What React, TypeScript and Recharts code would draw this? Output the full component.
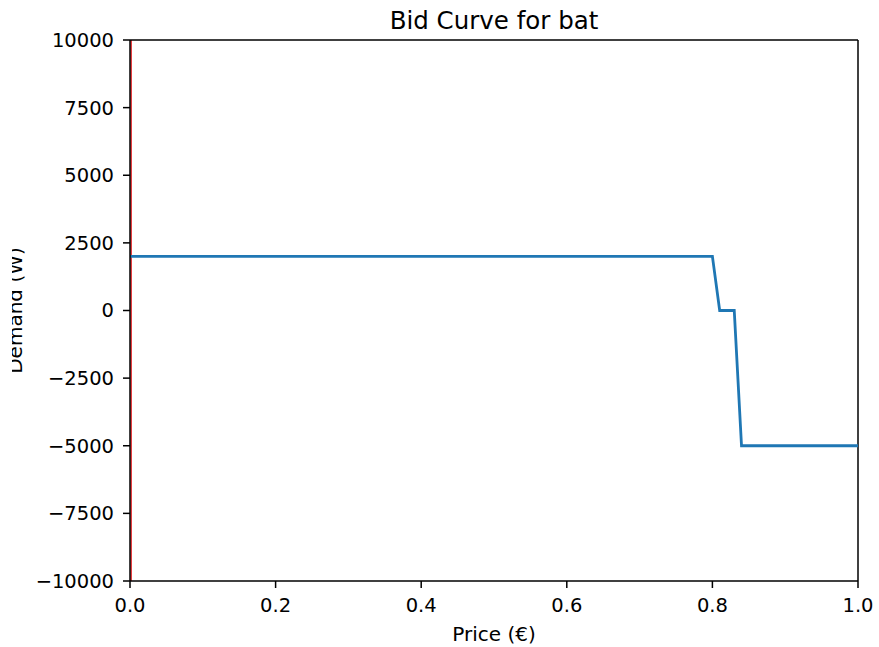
import React from 'react';
import { LineChart, Line, XAxis, YAxis, ReferenceLine, Customized } from 'recharts';

const prices = [0, 0.8, 0.81, 0.83, 0.84, 1.0];
const demand = [2000, 2000, 0, 0, -5000, -5000];
const xTicks = [0, 0.2, 0.4, 0.6, 0.8, 1.0];
const yTicks = [-10000, -7500, -5000, -2500, 0, 2500, 5000, 7500, 10000];
const title = 'Bid Curve for bat';
const xLabel = 'Price (€)';
const yLabel = 'Demand (W)';

const data = prices.map((p, i) => ({ price: p, demand: demand[i] }));

const FONT = '"DejaVu Sans", sans-serif';
const tickStyle = { fontSize: 19.5, fill: '#000', fontFamily: FONT };

const fmtY = (v: number) => (v < 0 ? '\u2212' + Math.abs(v) : String(v));

const Overlay = () => (
  <g>
    <defs>
      <clipPath id="ylabclip">
        <rect x={12} y={0} width={60} height={647} />
      </clipPath>
    </defs>
    <text x={494} y={29} textAnchor="middle" fontSize={24.5} fontFamily={FONT} fill="#000">
      {title}
    </text>
    <text x={494} y={641} textAnchor="middle" fontSize={20} fontFamily={FONT} fill="#000">
      {xLabel}
    </text>
    <g clipPath="url(#ylabclip)">
      <text
        x={0}
        y={0}
        transform="translate(22,310.5) rotate(-90)"
        textAnchor="middle"
        fontSize={20}
        fontFamily={FONT}
        fill="#000"
      >
        {yLabel}
      </text>
    </g>
  </g>
);

export default function App() {
  return (
    <div style={{ position: 'absolute', left: 0, top: 0, width: 879, height: 647, background: '#fff' }}>
      <LineChart width={879} height={647} data={data} margin={{ top: 40, right: 21, bottom: 6, left: 50 }}>
        <XAxis
          xAxisId="b"
          dataKey="price"
          type="number"
          domain={[0, 1]}
          ticks={xTicks}
          tickFormatter={(v: number) => v.toFixed(1)}
          tick={tickStyle}
          tickSize={7}
          tickMargin={10}
          axisLine={{ stroke: '#000', strokeWidth: 1.5 }}
          tickLine={{ stroke: '#000', strokeWidth: 1.5 }}
          allowDataOverflow
          height={60}
        />
        <YAxis
          yAxisId="l"
          type="number"
          domain={[-10000, 10000]}
          ticks={yTicks}
          tickFormatter={fmtY}
          tick={tickStyle}
          tickSize={7}
          tickMargin={9}
          axisLine={{ stroke: '#000', strokeWidth: 1.5 }}
          tickLine={{ stroke: '#000', strokeWidth: 1.5 }}
          width={80}
          allowDataOverflow
        />
        <ReferenceLine xAxisId="b" yAxisId="l" x={0.0015} stroke="#e31a1c" strokeWidth={1.5} />
        <ReferenceLine xAxisId="b" yAxisId="l" y={10000} stroke="#000" strokeWidth={1.5} />
        <ReferenceLine xAxisId="b" yAxisId="l" x={1} stroke="#000" strokeWidth={1.5} />
        <Line
          xAxisId="b"
          yAxisId="l"
          type="linear"
          dataKey="demand"
          stroke="#1f77b4"
          strokeWidth={2.8}
          dot={false}
          activeDot={false}
          isAnimationActive={false}
        />
        <Customized component={<Overlay />} />
      </LineChart>
    </div>
  );
}
